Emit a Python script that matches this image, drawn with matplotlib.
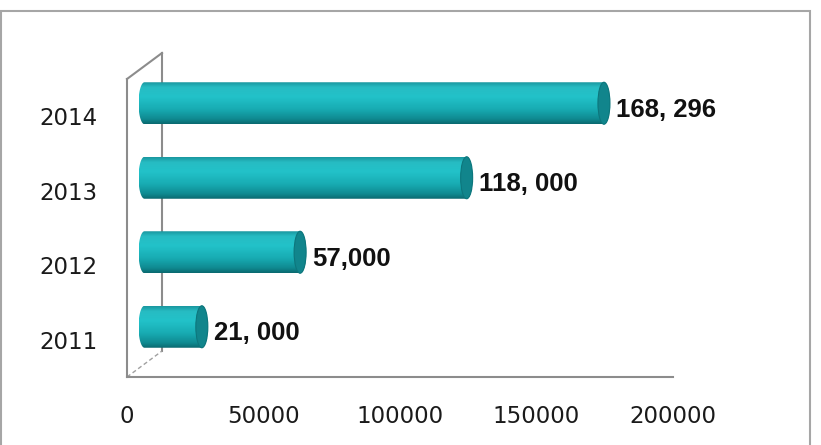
import numpy as np
import matplotlib
matplotlib.use("Agg")
import matplotlib.pyplot as plt
from matplotlib.colors import LinearSegmentedColormap
from matplotlib.patches import Ellipse, Rectangle, PathPatch
from matplotlib.path import Path

years = ["2011", "2012", "2013", "2014"]
values = [21000, 57000, 118000, 168296]
labels = ["21, 000", "57,000", "118, 000", "168, 296"]
xticks = [0, 50000, 100000, 150000, 200000]

W, H = 821, 445
fig = plt.figure(figsize=(W / 100, H / 100), dpi=100)

# front frame in pixels: x 127..673, y 79..377
ax = fig.add_axes([127 / W, (H - 377) / H, 546 / W, 298 / H])
ax.set_xlim(0, 200000)
ax.set_ylim(-0.5, 3.5)

px_x = 546 / 200000.0   # pixels per data unit in x
px_y = 298 / 4.0        # pixels per category
dx = 17.5 / px_x        # half depth of the 3d box
dy = 13 / px_y
ew = 12 / px_x          # width of the end ellipses
bh = 42 / px_y          # bar thickness

grey = "#8c8c8c"
for s in ["top", "right"]:
    ax.spines[s].set_visible(False)
for s in ["left", "bottom"]:
    ax.spines[s].set_color(grey)
    ax.spines[s].set_linewidth(1.5)

# back wall edges
ax.plot([0, 2 * dx], [3.5, 3.5 + 2 * dy], color=grey, lw=1.5, clip_on=False)
ax.plot([2 * dx, 2 * dx], [3.5 + 2 * dy, -0.5 + 2 * dy], color=grey, lw=1.5, clip_on=False)
ax.plot([0, 2 * dx], [-0.5, -0.5 + 2 * dy], color="#a0a0a0", lw=1.0, ls=(0, (3, 2)), clip_on=False)

cmap = LinearSegmentedColormap.from_list("cyl", [
    (0.0, "#1a98a0"), (0.12, "#27bcc3"), (0.35, "#22c2c9"),
    (0.65, "#18abb2"), (0.88, "#0f8a91"), (1.0, "#0a6a70")])
grad = np.linspace(0, 1, 100).reshape(-1, 1)

t1 = np.linspace(np.pi / 2, 3 * np.pi / 2, 40)
t2 = np.linspace(-np.pi / 2, np.pi / 2, 40)
for i, v in enumerate(values):
    yc = i + dy
    x0 = dx
    x1 = dx + v
    xs = np.concatenate([x0 + ew / 2 * np.cos(t1), x1 + ew / 2 * np.cos(t2)])
    ys = np.concatenate([yc + bh / 2 * np.sin(t1), yc + bh / 2 * np.sin(t2)])
    path = Path(np.column_stack([xs, ys]), closed=False)
    clip = PathPatch(path, transform=ax.transData, facecolor="none", edgecolor="none")
    ax.add_patch(clip)
    im = ax.imshow(grad, cmap=cmap, aspect="auto", zorder=3,
                   extent=[x0 - ew / 2, x1 + ew / 2, yc - bh / 2, yc + bh / 2])
    im.set_clip_path(clip)
    ax.add_patch(Ellipse((x1, yc), ew, bh, facecolor="#11858c",
                         edgecolor="#0d767c", lw=0.8, zorder=4))
    ax.text(x1 + ew / 2 + 6 / px_x, i + dy / 2, labels[i], ha="left", va="center",
            fontsize=18.5, fontweight="bold", family="Liberation Sans",
            color="#111111", zorder=5)

ax.set_xticks(xticks)
ax.set_xticklabels([str(t) for t in xticks])
ax.set_yticks(range(len(years)))
ax.set_yticklabels(years)
ax.tick_params(axis="both", length=0, labelsize=16.5, labelcolor="#1a1a1a")
ax.tick_params(axis="y", pad=21)
ax.tick_params(axis="x", pad=20)
ax.set_facecolor("none")

# chart border
fig.add_artist(Rectangle((1 / W, -0.05), 809 / W, 1.05 - 11 / H,
                         transform=fig.transFigure, fill=False,
                         edgecolor="#a6a6a6", lw=1.5))

fig.savefig("out.png", dpi=100)
